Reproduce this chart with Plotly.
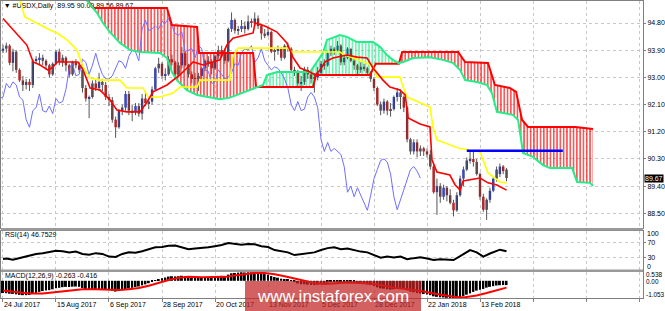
import plotly.graph_objects as go

# ---------------- data ----------------
DATE_LABELS = ["24 Jul 2017", "15 Aug 2017", "6 Sep 2017", "28 Sep 2017", "20 Oct 2017",
               "13 Nov 2017", "5 Dec 2017", "28 Dec 2017", "22 Jan 2018", "13 Feb 2018"]
DATE_BARS = [0, 16, 32, 48, 64, 80, 96, 112, 128, 144]

OPEN = [93.88, 93.95, 94.05, 93.48, 93.85, 93.25, 92.90, 92.75, 92.85, 92.75,
        93.55, 93.60, 93.65, 93.55, 93.40, 93.10, 93.45, 93.85, 93.50, 93.65,
        93.40, 93.10, 93.50, 93.40, 93.25, 92.65, 92.30, 92.35, 92.80, 92.65,
        92.85, 92.75, 92.35, 92.25, 91.60, 91.35, 91.90, 92.00, 92.45, 91.90,
        91.85, 92.05, 91.80, 92.30, 92.15, 92.20, 92.60, 93.30, 93.45, 93.05,
        93.10, 93.60, 93.50, 93.10, 93.40, 93.80, 93.40, 93.10, 92.95, 92.95,
        93.05, 93.30, 93.55, 93.50, 93.30, 93.70, 93.90, 93.85, 93.55, 94.60,
        94.90, 94.55, 94.60, 94.70, 94.60, 94.85, 94.80, 94.95, 94.70, 94.45,
        94.40, 94.50, 93.85, 93.90, 93.95, 93.65, 94.05, 93.95, 93.25, 93.20,
        92.80, 92.85, 93.25, 93.10, 92.95, 93.00, 93.15, 93.45, 93.40, 93.80,
        93.95, 93.90, 94.05, 93.50, 93.65, 93.95, 93.55, 93.40, 93.25, 93.35,
        93.30, 93.15, 92.95, 92.65, 92.10, 91.90, 92.20, 91.90, 91.95, 92.35,
        92.50, 92.35, 92.00, 90.95, 90.55, 90.85, 90.55, 90.65, 90.55, 90.45,
        90.05, 89.20, 89.40, 89.05, 89.35, 89.10, 88.85, 88.60, 89.10, 89.65,
        89.95, 90.25, 90.30, 90.20, 89.80, 89.05, 88.62, 88.95, 89.25, 89.65,
        89.80, 90.05, 89.95]
HIGH = [94.08, 94.15, 94.10, 93.95, 93.90, 93.30, 93.05, 92.95, 92.95, 93.60,
        93.70, 93.80, 93.75, 93.60, 93.45, 93.50, 93.90, 93.95, 93.75, 93.70,
        93.45, 93.55, 93.60, 93.50, 93.40, 92.75, 92.40, 92.90, 92.95, 93.15,
        92.95, 92.85, 92.45, 92.35, 91.70, 91.95, 92.10, 92.55, 92.55, 92.10,
        92.15, 92.15, 92.45, 92.55, 92.30, 92.70, 93.35, 93.65, 93.50, 93.30,
        93.70, 93.75, 93.55, 93.50, 94.00, 93.85, 93.45, 93.20, 93.15, 93.15,
        93.35, 93.60, 93.70, 93.60, 93.75, 94.05, 94.05, 93.95, 94.65, 95.15,
        94.95, 94.70, 94.90, 94.85, 95.05, 94.95, 95.15, 95.05, 94.75, 94.60,
        94.65, 94.55, 93.95, 94.05, 94.00, 94.10, 94.15, 94.00, 93.35, 93.25,
        93.05, 93.35, 93.35, 93.20, 93.15, 93.35, 93.55, 93.60, 93.85, 94.05,
        94.00, 94.20, 94.10, 93.75, 94.00, 93.95, 93.65, 93.45, 93.50, 93.45,
        93.35, 93.20, 93.00, 92.70, 92.20, 92.30, 92.25, 92.15, 92.40, 92.65,
        92.60, 92.40, 92.05, 91.00, 90.95, 90.95, 90.75, 90.70, 90.65, 90.60,
        90.15, 89.65, 89.50, 89.45, 89.40, 89.30, 88.95, 89.20, 89.75, 90.05,
        90.35, 90.60, 90.60, 90.30, 89.85, 89.15, 89.00, 89.35, 89.70, 90.05,
        90.15, 90.10, 90.00]
LOW = [93.80, 93.82, 93.40, 93.20, 93.15, 92.85, 92.55, 92.60, 92.55, 92.65,
       93.45, 93.40, 93.40, 93.25, 93.00, 93.05, 93.40, 93.40, 93.35, 93.20,
       93.00, 93.05, 93.30, 93.15, 92.50, 92.20, 91.65, 92.30, 92.55, 92.55,
       92.55, 92.25, 92.05, 91.50, 91.00, 91.30, 91.75, 91.90, 91.75, 91.55,
       91.75, 91.70, 91.60, 92.05, 91.95, 92.10, 92.55, 93.15, 92.95, 92.90,
       93.05, 93.40, 92.95, 93.00, 93.30, 93.35, 93.00, 92.80, 92.75, 92.55,
       92.95, 93.20, 93.35, 93.10, 93.25, 93.60, 93.65, 93.45, 93.50, 94.50,
       94.45, 94.40, 94.50, 94.45, 94.55, 94.65, 94.70, 94.60, 94.25, 94.30,
       94.35, 93.80, 93.55, 93.75, 93.55, 93.60, 93.85, 93.20, 93.05, 92.70,
       92.55, 92.75, 92.95, 92.80, 92.50, 92.90, 93.05, 93.25, 93.35, 93.70,
       93.75, 93.85, 93.40, 93.40, 93.60, 93.50, 93.25, 93.10, 93.15, 93.20,
       93.05, 92.85, 92.55, 92.05, 91.75, 91.80, 91.75, 91.70, 91.90, 92.20,
       91.95, 91.85, 90.85, 90.45, 90.45, 90.35, 90.40, 90.40, 90.35, 89.95,
       89.15, 88.45, 88.85, 88.95, 88.90, 88.80, 88.40, 88.55, 89.05, 89.40,
       89.90, 90.15, 90.05, 89.75, 88.95, 88.55, 88.28, 88.85, 89.20, 89.55,
       89.70, 89.80, 89.56]
CLOSE = [93.95, 94.05, 93.48, 93.85, 93.25, 92.90, 92.75, 92.85, 92.75, 93.55,
         93.60, 93.65, 93.55, 93.40, 93.10, 93.45, 93.85, 93.50, 93.65, 93.40,
         93.10, 93.50, 93.40, 93.25, 92.65, 92.30, 92.35, 92.80, 92.65, 92.85,
         92.75, 92.35, 92.25, 91.60, 91.35, 91.90, 92.00, 92.45, 91.90, 91.85,
         92.05, 91.80, 92.30, 92.15, 92.20, 92.60, 93.30, 93.45, 93.05, 93.10,
         93.60, 93.50, 93.10, 93.40, 93.80, 93.40, 93.10, 92.95, 92.95, 93.05,
         93.30, 93.55, 93.50, 93.30, 93.70, 93.90, 93.85, 93.55, 94.60, 94.90,
         94.55, 94.60, 94.70, 94.60, 94.85, 94.80, 94.95, 94.70, 94.45, 94.40,
         94.50, 93.85, 93.90, 93.95, 93.65, 94.05, 93.95, 93.25, 93.20, 92.80,
         92.85, 93.25, 93.10, 92.95, 93.00, 93.15, 93.45, 93.40, 93.80, 93.95,
         93.90, 94.05, 93.50, 93.65, 93.95, 93.55, 93.40, 93.25, 93.35, 93.30,
         93.15, 92.95, 92.65, 92.10, 91.90, 92.20, 91.90, 91.95, 92.35, 92.50,
         92.35, 92.00, 90.95, 90.55, 90.85, 90.55, 90.65, 90.55, 90.45, 90.05,
         89.20, 89.40, 89.05, 89.35, 89.10, 88.85, 88.60, 89.10, 89.65, 89.95,
         90.25, 90.30, 90.20, 89.80, 89.05, 88.62, 88.95, 89.25, 89.65, 89.95,
         90.05, 89.90, 89.67]

TENKAN_I = [0, 5.1, 7.2, 9.1, 11.2, 13.6, 15.1, 16.3, 22.6, 24.2, 26.3, 29.3, 32.3, 34.4,
            37.4, 41.4, 43.5, 45.3, 49.5, 53.4, 57.4, 60.4, 62.5, 65.5, 67.6, 69.4, 75.5,
            76.1, 78.2, 79.7, 82.7, 85.7, 87.5, 89.7, 92.7, 94.2, 95.7, 97.2, 99.6, 103.8,
            106.9, 109.9, 111.7, 114.7, 116.8, 119.8, 121.4, 122.3, 125.9, 128.9, 129.5,
            131.0, 134.9, 136.5, 138.0, 138.9, 144.0, 146.4, 149.1, 150.9, 152]
TENKAN_P = [94.95, 94.34, 94.07, 93.51, 93.41, 93.24, 93.34, 93.51, 93.51, 93.24, 92.65,
            92.58, 92.25, 91.92, 91.86, 91.86, 92.19, 92.52, 92.75, 93.08, 93.51, 93.41,
            93.48, 93.58, 94.07, 94.30, 94.47, 94.80, 94.73, 94.67, 94.50, 94.14, 93.67,
            93.31, 93.18, 93.08, 93.24, 93.51, 93.64, 93.74, 93.67, 93.64, 93.31, 92.91,
            92.68, 92.58, 92.42, 91.66, 91.46, 91.36, 90.27, 89.87, 89.77, 89.44, 89.27,
            89.57, 89.67, 89.51, 89.44, 89.34, 89.27]

KIJUN_I = [0, 5.1, 6.6, 11.2, 14.2, 16.3, 19.3, 22.3, 24.2, 26.3, 29.3, 35.3, 37.4, 42.3,
           43.8, 47.4, 51.3, 53.4, 58.6, 59.5, 68.5, 69.4, 70.9, 86.0, 87.2, 101.7, 103.2,
           109.9, 111.7, 112.9, 119.8, 120.8, 122.0, 128.9, 129.8, 131.0, 137.4, 144.0,
           146.4, 150.0, 152]
KIJUN_P = [95.85, 95.56, 95.00, 94.73, 94.57, 94.47, 94.24, 93.91, 93.34, 92.98, 92.91,
           92.91, 92.65, 92.65, 92.35, 92.35, 92.48, 92.68, 92.68, 92.91, 92.91, 93.67,
           93.97, 93.97, 93.84, 93.84, 93.74, 93.48, 93.34, 93.01, 93.01, 92.68, 92.35,
           92.02, 91.36, 90.93, 90.66, 90.53, 89.84, 89.54, 89.51]

SPAN_A_I = [0, 24.2, 25.7, 28.4, 30.2, 32.3, 35.3, 38.3, 41.4, 47.4, 49.5, 51.0, 52.5, 55.5,
            58.6, 65.5, 68.5, 71.5, 75.5, 76.4, 78.5, 79.7, 82.7, 92.7, 96.6, 97.8, 101.7,
            103.8, 106.9, 111.7, 113.8, 115.9, 117.7, 119.5, 120.8, 123.8, 128.9, 132.8,
            135.8, 138.0, 139.5, 143.1, 146.1, 147.6, 149.1, 153.9, 155.5, 157.0, 160.0,
            163.0, 165.1, 171.8, 173.3, 177.2, 178.1]
SPAN_A_P = [96.00, 95.65, 95.50, 95.13, 94.80, 94.50, 94.14, 93.91, 93.84, 93.81, 93.64,
            93.18, 92.91, 92.58, 92.42, 92.28, 92.33, 92.45, 92.62, 92.66, 92.75, 93.08,
            93.18, 93.18, 93.81, 94.24, 94.40, 94.34, 94.17, 94.17, 94.01, 93.74, 93.58,
            93.47, 93.51, 93.64, 93.67, 93.58, 93.48, 93.24, 92.91, 92.85, 92.75, 92.48,
            91.86, 91.76, 91.59, 90.50, 90.37, 90.10, 90.00, 90.00, 89.54, 89.51, 89.41]

SPAN_B_I = [0, 24.0, 27.2, 49.5, 51.0, 58.6, 59.2, 75.5, 76.4, 93.6, 94.5, 110.8, 112.5,
            119.5, 120.5, 137.4, 139.5, 146.4, 148.5, 153.0, 154.9, 156.7, 158.5, 172.7, 178.1]
SPAN_B_P = [95.80, 95.80, 95.30, 95.30, 94.73, 94.67, 93.81, 93.81, 92.68, 92.68, 93.08,
            93.08, 93.45, 93.45, 93.84, 93.84, 93.51, 93.48, 92.75, 92.65, 92.52, 91.59,
            91.36, 91.36, 91.29]

# cloud segments: (from bar, to bar, bullish?)
CLOUD_SEGMENTS = [(0, 76.4, False), (76.4, 119.5, True), (119.5, 178.1, False)]

CHIKOU_SHIFT = 26

LEVEL_PRICE = 90.57
LEVEL_FROM, LEVEL_TO = 140, 169

RSI_I = [0, 1, 3, 5, 7, 8, 10, 12, 14, 16, 18, 20, 22, 24, 26, 28, 30, 32, 34, 36, 38, 40,
         42, 44, 46, 48, 50, 52, 54, 56, 58, 60, 62, 64, 66, 68, 70, 72, 74, 76, 78, 80,
         82, 84, 86, 88, 90, 92, 94, 96, 98, 100, 102, 104, 106, 108, 110, 112, 114, 116,
         118, 120, 122, 124, 126, 128, 130, 132, 134, 136, 138, 140, 141, 143, 145, 147,
         148, 150, 151, 152]
RSI_V = [27, 28, 25, 29, 33, 37, 40, 42, 46, 48, 47, 44, 46, 40, 38, 42, 40, 33, 32, 40,
         44, 43, 47, 52, 57, 58, 61, 62, 58, 52, 54, 55, 57, 60, 63, 68, 66, 64, 66, 65,
         60, 58, 50, 47, 44, 37, 40, 42, 44, 50, 55, 57, 52, 54, 50, 46, 44, 38, 30, 33,
         31, 33, 26, 29, 31, 28, 24, 26, 25, 24, 34, 46, 50, 44, 33, 41, 44, 51, 49, 46.7529]
RSI_TICKS = [70, 30]

MACD_MAIN = [-0.75, -0.76, -0.79, -0.80, -0.83, -0.86, -0.88, -0.88, -0.87, -0.80,
             -0.74, -0.68, -0.63, -0.59, -0.57, -0.52, -0.46, -0.43, -0.39, -0.37,
             -0.38, -0.36, -0.35, -0.37, -0.44, -0.52, -0.56, -0.55, -0.54, -0.52,
             -0.51, -0.53, -0.55, -0.61, -0.66, -0.63, -0.58, -0.50, -0.47, -0.43,
             -0.38, -0.35, -0.28, -0.22, -0.15, -0.07, 0.03, 0.11, 0.15, 0.20,
             0.26, 0.28, 0.27, 0.28, 0.31, 0.29, 0.25, 0.21, 0.18, 0.17,
             0.18, 0.20, 0.21, 0.20, 0.23, 0.27, 0.30, 0.29, 0.38, 0.46,
             0.48, 0.50, 0.52, 0.51, 0.52, 0.52, 0.538, 0.52, 0.47, 0.41,
             0.37, 0.29, 0.23, 0.19, 0.13, 0.11, 0.08, -0.01, -0.08, -0.16,
             -0.21, -0.21, -0.23, -0.25, -0.26, -0.24, -0.20, -0.17, -0.12, -0.08,
             -0.05, -0.03, -0.06, -0.07, -0.06, -0.09, -0.12, -0.16, -0.18, -0.19,
             -0.22, -0.26, -0.32, -0.40, -0.46, -0.48, -0.52, -0.54, -0.52, -0.48,
             -0.47, -0.49, -0.58, -0.66, -0.70, -0.75, -0.78, -0.81, -0.84, -0.88,
             -0.95, -0.98, -1.01, -1.02, -1.04, -1.05, -1.053, -1.04, -1.01, -0.95,
             -0.85, -0.77, -0.68, -0.60, -0.55, -0.50, -0.42, -0.37, -0.33, -0.29,
             -0.27, -0.26, -0.263]
MACD_SIG_I = [0, 4, 8, 12, 16, 20, 24, 28, 32, 35, 38, 41, 44, 47, 50, 53, 56, 60, 64, 67,
              70, 73, 76, 79, 82, 85, 88, 91, 94, 97, 100, 104, 108, 112, 115, 118, 121,
              124, 127, 130, 133, 136, 139, 141, 143, 146, 149, 152]
MACD_SIG_V = [-0.60, -0.70, -0.78, -0.78, -0.70, -0.60, -0.52, -0.52, -0.54, -0.56, -0.52,
              -0.44, -0.30, -0.12, 0.05, 0.18, 0.24, 0.22, 0.22, 0.24, 0.32, 0.42, 0.48,
              0.47, 0.40, 0.28, 0.13, -0.03, -0.14, -0.19, -0.15, -0.10, -0.13, -0.20,
              -0.30, -0.42, -0.48, -0.56, -0.66, -0.78, -0.90, -0.98, -1.02, -0.98, -0.90,
              -0.75, -0.56, -0.416]
MACD_MAX, MACD_MIN = 0.538, -1.053

PRICE_TICKS = [88.50, 89.40, 90.30, 91.20, 92.10, 93.00, 93.90, 94.80]
PRICE_RANGE = [88.016, 95.528]
LAST_PRICE = 89.67
TITLE = "#USDX,Daily  89.95 90.00 89.56 89.67"
RSI_TITLE = "RSI(14) 46.7529"
MACD_TITLE = "MACD(12,26,9) -0.263 -0.416"
WATERMARK = "www.instaforex.com"

# ---------------- styles ----------------
FONT = "Liberation Sans, Arial, sans-serif"
FS = 7
RED = "#ff0000"
GREEN = "#22ee88"
BULL = "#1f2fb0"
BEAR = "#b01010"
WICK = "#555555"
GRIDC = "#c8c8c8"
FRAME = "#808080"
X_RANGE = [-0.6, 193.2]
GRID_BARS = list(range(0, 193, 16))

n = len(CLOSE)
idx = list(range(n))
fig = go.Figure()

# symbol caption (drawn first so the cloud overlaps it, as in the terminal)
fig.add_trace(go.Scatter(x=[0.2], y=[95.36], mode="text", text=["\u25bc " + TITLE],
                         textposition="middle right",
                         textfont=dict(family=FONT, size=FS, color="black"),
                         hoverinfo="skip", xaxis="x", yaxis="y"))

# Kumo hatching
def seg(I, P, lo, hi):
    xs, ys = [], []
    for a, b in zip(I, P):
        if lo - 1e-9 <= a <= hi + 1e-9:
            xs.append(a)
            ys.append(b)
    return xs, ys

for lo, hi, bull in CLOUD_SEGMENTS:
    col = GREEN if bull else RED
    bx, by = seg(SPAN_B_I, SPAN_B_P, lo, hi)
    ax, ay = seg(SPAN_A_I, SPAN_A_P, lo, hi)
    fig.add_trace(go.Scatter(x=bx, y=by, mode="lines", line=dict(width=0, color=col),
                             hoverinfo="skip", xaxis="x", yaxis="y"))
    fig.add_trace(go.Scatter(x=ax, y=ay, mode="lines", line=dict(width=0, color=col),
                             fill="tonexty", fillcolor="rgba(0,0,0,0)",
                             fillpattern=dict(shape="|", fgcolor=col, bgcolor="rgba(0,0,0,0)",
                                              size=3.3, solidity=0.33, fgopacity=1),
                             hoverinfo="skip", xaxis="x", yaxis="y"))

# candles: wicks then bodies
wx, wy = [], []
for i in idx:
    wx += [i, i, None]
    wy += [LOW[i], HIGH[i], None]
fig.add_trace(go.Scatter(x=wx, y=wy, mode="lines", line=dict(color=WICK, width=1),
                         hoverinfo="skip", xaxis="x", yaxis="y"))
body_base = [min(o, c) for o, c in zip(OPEN, CLOSE)]
body_h = [max(abs(c - o), 0.015) for o, c in zip(OPEN, CLOSE)]
body_col = [BULL if c > o else BEAR for o, c in zip(OPEN, CLOSE)]
fig.add_trace(go.Bar(x=idx, y=body_h, base=body_base, width=0.72,
                     marker=dict(color=body_col, line=dict(width=0)),
                     hoverinfo="skip", xaxis="x", yaxis="y"))

# Ichimoku lines
fig.add_trace(go.Scatter(x=[i - CHIKOU_SHIFT for i in idx], y=CLOSE, mode="lines",
                         line=dict(color="#6f6fff", width=1), hoverinfo="skip",
                         xaxis="x", yaxis="y"))
fig.add_trace(go.Scatter(x=SPAN_B_I, y=SPAN_B_P, mode="lines", line=dict(color=RED, width=2),
                         hoverinfo="skip", xaxis="x", yaxis="y"))
fig.add_trace(go.Scatter(x=SPAN_A_I, y=SPAN_A_P, mode="lines", line=dict(color=GREEN, width=2),
                         hoverinfo="skip", xaxis="x", yaxis="y"))
fig.add_trace(go.Scatter(x=KIJUN_I, y=KIJUN_P, mode="lines", line=dict(color="#ffff00", width=1.6),
                         hoverinfo="skip", xaxis="x", yaxis="y"))
fig.add_trace(go.Scatter(x=TENKAN_I, y=TENKAN_P, mode="lines", line=dict(color=RED, width=1.6),
                         hoverinfo="skip", xaxis="x", yaxis="y"))
fig.add_trace(go.Scatter(x=[LEVEL_FROM, LEVEL_TO], y=[LEVEL_PRICE, LEVEL_PRICE], mode="lines",
                         line=dict(color="#0000ff", width=2.5), hoverinfo="skip",
                         xaxis="x", yaxis="y"))

# RSI
fig.add_trace(go.Scatter(x=RSI_I, y=RSI_V, mode="lines", line=dict(color="black", width=2),
                         hoverinfo="skip", xaxis="x2", yaxis="y2"))

# MACD
fig.add_trace(go.Bar(x=idx, y=MACD_MAIN, width=0.6, marker=dict(color="black", line=dict(width=0)),
                     hoverinfo="skip", xaxis="x3", yaxis="y3"))
fig.add_trace(go.Scatter(x=MACD_SIG_I, y=MACD_SIG_V, mode="lines", line=dict(color=RED, width=2),
                         hoverinfo="skip", xaxis="x3", yaxis="y3"))

# ---------------- layout ----------------
H_PLOT = 297.0
def py(pix):
    return (298.0 - pix) / H_PLOT

xcommon = dict(range=X_RANGE, zeroline=False, showline=True, mirror=True, linecolor=FRAME,
               linewidth=1, showgrid=True, gridcolor=GRIDC, griddash="dot", gridwidth=1,
               tickvals=GRID_BARS, fixedrange=True, automargin=False)
tick_text = [DATE_LABELS[DATE_BARS.index(b)] if b in DATE_BARS else "" for b in GRID_BARS]

ycommon = dict(side="right", zeroline=False, showline=True, mirror=True, linecolor=FRAME,
               fixedrange=True, automargin=False)
TF = dict(family=FONT, size=FS, color="black")
TF_SMALL = dict(family=FONT, size=6.4, color="black")

fig.update_layout(
    width=665, height=311, margin=dict(l=1, r=22, t=1, b=13, autoexpand=False),
    paper_bgcolor="white", plot_bgcolor="white", showlegend=False, barmode="overlay",
    hovermode=False, font=TF,
    xaxis=dict(anchor="y", showticklabels=False, ticks="", **xcommon),
    xaxis2=dict(anchor="y2", matches="x", showticklabels=False, ticks="", **xcommon),
    xaxis3=dict(anchor="y3", matches="x", showticklabels=True, ticktext=tick_text,
                ticks="outside", ticklen=3, tickcolor=FRAME, ticklabelposition="outside right",
                tickangle=0, tickfont=TF, **xcommon),
    yaxis=dict(domain=[py(228), 1.0], range=PRICE_RANGE, anchor="x",
               tickvals=PRICE_TICKS, ticktext=["%.2f" % v for v in PRICE_TICKS],
               ticks="outside", ticklen=2, tickcolor=FRAME, showgrid=True, gridcolor=GRIDC,
               griddash="dot", tickfont=TF, **ycommon),
    yaxis2=dict(domain=[py(269.5), py(230.5)], range=[-0.5, 100.8], anchor="x2",
                tickvals=RSI_TICKS, ticktext=[str(v) for v in RSI_TICKS], ticks="outside",
                ticklen=2, tickcolor=FRAME, showgrid=True, gridcolor=GRIDC, griddash="dot",
                tickfont=TF, **ycommon),
    yaxis3=dict(domain=[0.0, py(272)], range=[MACD_MIN, MACD_MAX], anchor="x3",
                showticklabels=False, ticks="", showgrid=False, **ycommon),
)

shapes = [
    dict(type="rect", xref="paper", yref="paper", x0=0, x1=1, y0=py(230.5), y1=py(228),
         fillcolor="#9a9a9a", line=dict(width=0), layer="above"),
    dict(type="rect", xref="paper", yref="paper", x0=0, x1=1, y0=py(272), y1=py(269.5),
         fillcolor="#9a9a9a", line=dict(width=0), layer="above"),
    dict(type="rect", xref="paper", yref="paper", x0=(245 - 1) / 642.0, x1=(421 - 1) / 642.0,
         y0=py(311.5), y1=py(281), fillcolor="rgba(196,36,36,0.72)", line=dict(width=0),
         layer="above"),
]
fig.update_layout(shapes=shapes)

def right_label(text, pix_y, font=TF, xshift=2):
    return dict(text=text, xref="paper", x=1.0, xanchor="left", xshift=xshift, yref="paper",
                y=py(pix_y), yanchor="middle", showarrow=False, font=font)

annots = [
    dict(text=str(LAST_PRICE), xref="paper", x=1.0, xanchor="left", xshift=1, yref="y",
         y=LAST_PRICE, yanchor="middle", showarrow=False, bgcolor="black", borderpad=0,
         font=dict(family=FONT, size=FS, color="white")),
    dict(text=RSI_TITLE, xref="paper", x=0, xanchor="left", xshift=2, yref="paper",
         y=py(235), yanchor="middle", showarrow=False, font=TF),
    dict(text=MACD_TITLE, xref="paper", x=0, xanchor="left", xshift=2, yref="paper",
         y=py(275.5), yanchor="middle", showarrow=False, font=TF),
    right_label("100", 233.8),
    right_label("0", 266.0),
    right_label("%.3f" % MACD_MAX, 274.6, TF_SMALL, 1),
    right_label("0.00", 281.0, TF_SMALL, 1),
    right_label("%.3f" % MACD_MIN, 294.8, TF_SMALL, 1),
    dict(text=WATERMARK, xref="paper", x=(333 - 1) / 642.0, xanchor="center", yref="paper",
         y=py(296), yanchor="middle", showarrow=False,
         font=dict(family="Liberation Sans, Arial, sans-serif", size=17, color="white")),
]
fig.update_layout(annotations=annots)

fig.write_html("out.html")
